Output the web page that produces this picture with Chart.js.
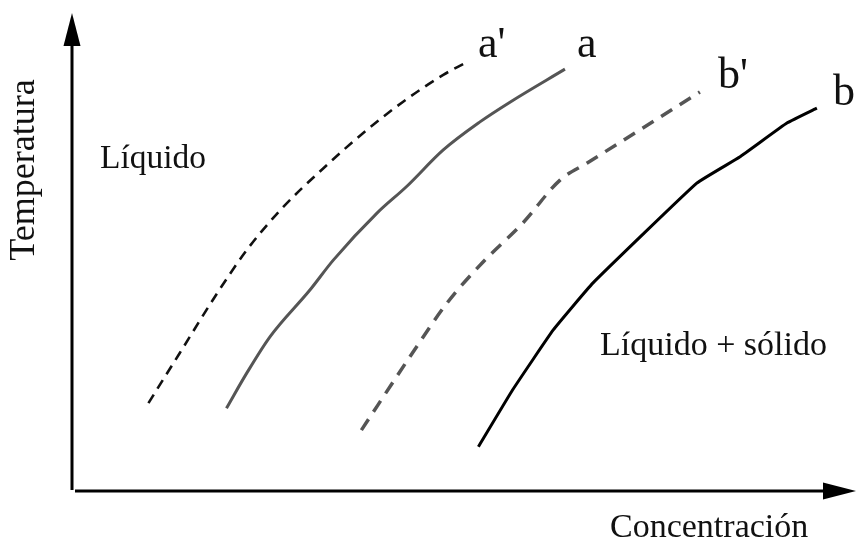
<!DOCTYPE html>
<html>
<head>
<meta charset="utf-8">
<script src="https://cdn.jsdelivr.net/npm/chart.js@4/dist/chart.umd.min.js"></script>
<style>
  html, body { margin: 0; padding: 0; background: #ffffff; }
  #wrap { width: 858px; height: 541px; position: relative; }
</style>
</head>
<body>
<div id="wrap"><canvas id="c" width="858" height="541"></canvas></div>
<script>
// ---- data (arbitrary units: concentration 0-100, temperature 0-100) ----
const seriesNames = ["a'", "a", "b'", "b"];

const aPrimeX = [9.8, 13.8, 18.6, 22.4, 26.7, 32.2, 37.3, 42.5, 47.6, 50.4];
const aPrimeY = [18.3, 28.8, 41.4, 50.5, 58.9, 67.7, 75.1, 81.8, 87.4, 89.9];

const aX = [19.8, 22.4, 25.4, 30.5, 33.5, 39.1, 42.9, 47.6, 52.3, 56.2, 63.2];
const aY = [17.2, 24.6, 32.3, 42.1, 48.4, 58.3, 63.9, 71.6, 77.5, 81.7, 88.6];

const bPrimeX = [37.1, 43.3, 48.1, 52.7, 57.8, 62.6, 66.0, 72.4, 80.5];
const bPrimeY = [12.6, 28.0, 39.4, 48.0, 56.2, 65.3, 68.8, 75.4, 83.8];

const bX = [52.1, 56.5, 61.7, 66.8, 80.1, 85.6, 91.7, 95.5];
const bY = [9.1, 21.1, 33.7, 43.6, 64.6, 70.1, 77.3, 80.4];

const xAxisLabel = "Concentración";
const yAxisLabel = "Temperatura";
const regionLabels = ["Líquido", "Líquido + sólido"];

// ---- build ----
function pts(xs, ys) { return xs.map((x, i) => ({ x: x, y: ys[i] })); }

const FONT = '"Liberation Serif", "Times New Roman", serif';

const overlay = {
  id: 'overlay',
  afterDraw(chart) {
    const ctx = chart.ctx;
    const area = chart.chartArea;
    ctx.save();
    ctx.fillStyle = '#000';
    ctx.strokeStyle = '#000';
    ctx.lineWidth = 3;
    // y axis
    ctx.beginPath();
    ctx.moveTo(area.left, area.bottom);
    ctx.lineTo(area.left, area.top + 20);
    ctx.stroke();
    ctx.beginPath();
    ctx.moveTo(area.left, area.top - 2);
    ctx.lineTo(area.left - 8.5, area.top + 31);
    ctx.lineTo(area.left + 8.5, area.top + 31);
    ctx.closePath();
    ctx.fill();
    // x axis
    ctx.beginPath();
    ctx.moveTo(area.left + 3, area.bottom + 1);
    ctx.lineTo(area.right - 20, area.bottom + 1);
    ctx.stroke();
    ctx.beginPath();
    ctx.moveTo(area.right + 4, area.bottom + 1);
    ctx.lineTo(area.right - 29, area.bottom + 1 - 8.5);
    ctx.lineTo(area.right - 29, area.bottom + 1 + 8.5);
    ctx.closePath();
    ctx.fill();

    // curve labels
    ctx.fillStyle = '#111';
    ctx.textBaseline = 'alphabetic';
    ctx.textAlign = 'left';
    ctx.font = '44px ' + FONT;
    const curveLabelPos = [[478, 57], [577, 57], [718, 88], [833, 105]];
    seriesNames.forEach((n, i) => ctx.fillText(n, curveLabelPos[i][0], curveLabelPos[i][1]));

    // region labels
    ctx.font = '33.5px ' + FONT;
    ctx.fillText(regionLabels[0], 100, 168);
    ctx.font = '34px ' + FONT;
    ctx.fillText(regionLabels[1], 600, 355);

    // axis labels
    ctx.fillText(xAxisLabel, 610, 537);
    ctx.save();
    ctx.translate(34, 170);
    ctx.rotate(-Math.PI / 2);
    ctx.textAlign = 'center';
    ctx.font = '36px ' + FONT;
    ctx.fillText(yAxisLabel, 0, 0);
    ctx.restore();
    ctx.restore();
  }
};

new Chart(document.getElementById('c'), {
  type: 'scatter',
  data: {
    datasets: [
      { label: seriesNames[0], data: pts(aPrimeX, aPrimeY), showLine: true,
        borderColor: '#111', borderWidth: 2.6, borderDash: [10, 7], pointRadius: 0,
        cubicInterpolationMode: 'monotone' },
      { label: seriesNames[1], data: pts(aX, aY), showLine: true,
        borderColor: '#555', borderWidth: 3, pointRadius: 0,
        cubicInterpolationMode: 'monotone' },
      { label: seriesNames[2], data: pts(bPrimeX, bPrimeY), showLine: true,
        borderColor: '#555', borderWidth: 3.5, borderDash: [13, 9], pointRadius: 0,
        cubicInterpolationMode: 'monotone' },
      { label: seriesNames[3], data: pts(bX, bY), showLine: true,
        borderColor: '#000', borderWidth: 3, pointRadius: 0, tension: 0.1 }
    ]
  },
  options: {
    responsive: false,
    animation: false,
    layout: { padding: { left: 72, right: 6, top: 15, bottom: 51 } },
    plugins: { legend: { display: false }, tooltip: { enabled: false } },
    scales: {
      x: { type: 'linear', min: 0, max: 100, display: false },
      y: { type: 'linear', min: 0, max: 100, display: false }
    }
  },
  plugins: [overlay]
});
</script>
</body>
</html>
